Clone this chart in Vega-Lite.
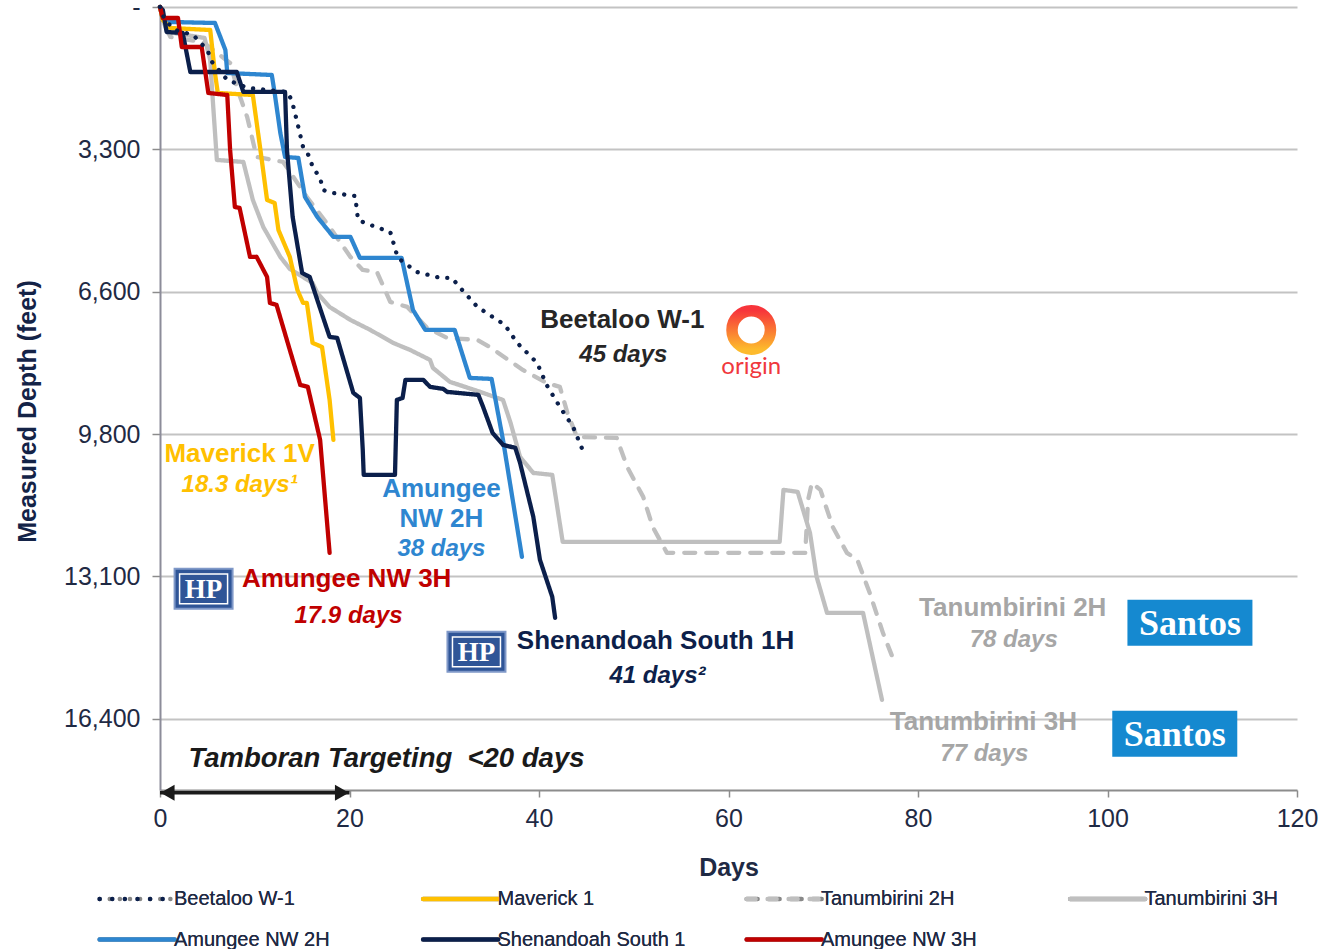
{
  "$schema": "https://vega.github.io/schema/vega-lite/v6.json",
  "width": 1137,
  "height": 783,
  "autosize": {"type": "none"},
  "padding": {"left": 160, "top": 7, "right": 22, "bottom": 159},
  "background": "white",
  "config": {
    "view": {"stroke": null},
    "font": "Liberation Sans",
    "axis": {"labelFont": "Liberation Sans", "titleFont": "Liberation Sans"}
  },
  "datasets": {
    "wells": [
      {"well": "Tanumbirini 3H", "day": 0, "depth": 0},
      {"well": "Tanumbirini 3H", "day": 0.3, "depth": 300},
      {"well": "Tanumbirini 3H", "day": 0.8, "depth": 576},
      {"well": "Tanumbirini 3H", "day": 4.7, "depth": 714},
      {"well": "Tanumbirini 3H", "day": 5.3, "depth": 1221},
      {"well": "Tanumbirini 3H", "day": 5.5, "depth": 1912},
      {"well": "Tanumbirini 3H", "day": 6.0, "depth": 3525},
      {"well": "Tanumbirini 3H", "day": 8.8, "depth": 3571},
      {"well": "Tanumbirini 3H", "day": 9.8, "depth": 4447},
      {"well": "Tanumbirini 3H", "day": 10.9, "depth": 5069},
      {"well": "Tanumbirini 3H", "day": 12.7, "depth": 5760},
      {"well": "Tanumbirini 3H", "day": 13.7, "depth": 6036},
      {"well": "Tanumbirini 3H", "day": 16.1, "depth": 6359},
      {"well": "Tanumbirini 3H", "day": 16.6, "depth": 6589},
      {"well": "Tanumbirini 3H", "day": 17.9, "depth": 6912},
      {"well": "Tanumbirini 3H", "day": 20.1, "depth": 7212},
      {"well": "Tanumbirini 3H", "day": 22.2, "depth": 7442},
      {"well": "Tanumbirini 3H", "day": 24.6, "depth": 7741},
      {"well": "Tanumbirini 3H", "day": 26.4, "depth": 7903},
      {"well": "Tanumbirini 3H", "day": 28.5, "depth": 8133},
      {"well": "Tanumbirini 3H", "day": 28.8, "depth": 8317},
      {"well": "Tanumbirini 3H", "day": 30.6, "depth": 8640},
      {"well": "Tanumbirini 3H", "day": 34.1, "depth": 8893},
      {"well": "Tanumbirini 3H", "day": 36.2, "depth": 9055},
      {"well": "Tanumbirini 3H", "day": 37.0, "depth": 9585},
      {"well": "Tanumbirini 3H", "day": 38.0, "depth": 10368},
      {"well": "Tanumbirini 3H", "day": 39.4, "depth": 10737},
      {"well": "Tanumbirini 3H", "day": 41.4, "depth": 10783},
      {"well": "Tanumbirini 3H", "day": 42.5, "depth": 12326},
      {"well": "Tanumbirini 3H", "day": 65.4, "depth": 12326},
      {"well": "Tanumbirini 3H", "day": 65.8, "depth": 11128},
      {"well": "Tanumbirini 3H", "day": 67.3, "depth": 11174},
      {"well": "Tanumbirini 3H", "day": 68.6, "depth": 12119},
      {"well": "Tanumbirini 3H", "day": 69.3, "depth": 13133},
      {"well": "Tanumbirini 3H", "day": 70.4, "depth": 13962},
      {"well": "Tanumbirini 3H", "day": 74.2, "depth": 13962},
      {"well": "Tanumbirini 3H", "day": 76.2, "depth": 15967},

      {"well": "Tanumbirini 2H", "day": 0, "depth": 0},
      {"well": "Tanumbirini 2H", "day": 0.5, "depth": 415},
      {"well": "Tanumbirini 2H", "day": 1.1, "depth": 691},
      {"well": "Tanumbirini 2H", "day": 4.5, "depth": 806},
      {"well": "Tanumbirini 2H", "day": 7.4, "depth": 1290},
      {"well": "Tanumbirini 2H", "day": 8.2, "depth": 1912},
      {"well": "Tanumbirini 2H", "day": 9.2, "depth": 2534},
      {"well": "Tanumbirini 2H", "day": 10.2, "depth": 3456},
      {"well": "Tanumbirini 2H", "day": 13.0, "depth": 3571},
      {"well": "Tanumbirini 2H", "day": 15.5, "depth": 4378},
      {"well": "Tanumbirini 2H", "day": 17.9, "depth": 5069},
      {"well": "Tanumbirini 2H", "day": 20.1, "depth": 5760},
      {"well": "Tanumbirini 2H", "day": 21.4, "depth": 6060},
      {"well": "Tanumbirini 2H", "day": 22.9, "depth": 6106},
      {"well": "Tanumbirini 2H", "day": 24.3, "depth": 6797},
      {"well": "Tanumbirini 2H", "day": 26.1, "depth": 6912},
      {"well": "Tanumbirini 2H", "day": 28.2, "depth": 7396},
      {"well": "Tanumbirini 2H", "day": 30.3, "depth": 7626},
      {"well": "Tanumbirini 2H", "day": 33.5, "depth": 7672},
      {"well": "Tanumbirini 2H", "day": 34.8, "depth": 7834},
      {"well": "Tanumbirini 2H", "day": 38.3, "depth": 8364},
      {"well": "Tanumbirini 2H", "day": 40.8, "depth": 8663},
      {"well": "Tanumbirini 2H", "day": 42.2, "depth": 8755},
      {"well": "Tanumbirini 2H", "day": 43.0, "depth": 9354},
      {"well": "Tanumbirini 2H", "day": 44.0, "depth": 9907},
      {"well": "Tanumbirini 2H", "day": 48.2, "depth": 9930},
      {"well": "Tanumbirini 2H", "day": 49.3, "depth": 10598},
      {"well": "Tanumbirini 2H", "day": 51.0, "depth": 11290},
      {"well": "Tanumbirini 2H", "day": 52.0, "depth": 11981},
      {"well": "Tanumbirini 2H", "day": 53.5, "depth": 12580},
      {"well": "Tanumbirini 2H", "day": 68.1, "depth": 12580},
      {"well": "Tanumbirini 2H", "day": 68.4, "depth": 11359},
      {"well": "Tanumbirini 2H", "day": 68.8, "depth": 10967},
      {"well": "Tanumbirini 2H", "day": 69.7, "depth": 11128},
      {"well": "Tanumbirini 2H", "day": 71.0, "depth": 11981},
      {"well": "Tanumbirini 2H", "day": 72.5, "depth": 12580},
      {"well": "Tanumbirini 2H", "day": 73.6, "depth": 12741},
      {"well": "Tanumbirini 2H", "day": 74.9, "depth": 13501},
      {"well": "Tanumbirini 2H", "day": 76.3, "depth": 14423},
      {"well": "Tanumbirini 2H", "day": 77.5, "depth": 15091},

      {"well": "Amungee NW 2H", "day": 0, "depth": 0},
      {"well": "Amungee NW 2H", "day": 0.3, "depth": 300},
      {"well": "Amungee NW 2H", "day": 1.3, "depth": 346},
      {"well": "Amungee NW 2H", "day": 5.8, "depth": 369},
      {"well": "Amungee NW 2H", "day": 6.9, "depth": 991},
      {"well": "Amungee NW 2H", "day": 7.1, "depth": 1521},
      {"well": "Amungee NW 2H", "day": 11.8, "depth": 1567},
      {"well": "Amungee NW 2H", "day": 12.1, "depth": 1981},
      {"well": "Amungee NW 2H", "day": 12.7, "depth": 2903},
      {"well": "Amungee NW 2H", "day": 13.2, "depth": 3456},
      {"well": "Amungee NW 2H", "day": 14.6, "depth": 3479},
      {"well": "Amungee NW 2H", "day": 15.3, "depth": 4378},
      {"well": "Amungee NW 2H", "day": 16.6, "depth": 4838},
      {"well": "Amungee NW 2H", "day": 18.3, "depth": 5299},
      {"well": "Amungee NW 2H", "day": 20.1, "depth": 5299},
      {"well": "Amungee NW 2H", "day": 21.1, "depth": 5783},
      {"well": "Amungee NW 2H", "day": 25.5, "depth": 5783},
      {"well": "Amungee NW 2H", "day": 26.7, "depth": 6981},
      {"well": "Amungee NW 2H", "day": 28.0, "depth": 7442},
      {"well": "Amungee NW 2H", "day": 31.1, "depth": 7442},
      {"well": "Amungee NW 2H", "day": 32.7, "depth": 8548},
      {"well": "Amungee NW 2H", "day": 35.0, "depth": 8571},
      {"well": "Amungee NW 2H", "day": 36.2, "depth": 9976},
      {"well": "Amungee NW 2H", "day": 38.2, "depth": 12672},

      {"well": "Maverick 1", "day": 0, "depth": 0},
      {"well": "Maverick 1", "day": 0.3, "depth": 300},
      {"well": "Maverick 1", "day": 1.1, "depth": 484},
      {"well": "Maverick 1", "day": 5.3, "depth": 530},
      {"well": "Maverick 1", "day": 5.8, "depth": 1521},
      {"well": "Maverick 1", "day": 6.1, "depth": 1981},
      {"well": "Maverick 1", "day": 9.8, "depth": 2028},
      {"well": "Maverick 1", "day": 10.6, "depth": 3295},
      {"well": "Maverick 1", "day": 11.3, "depth": 4447},
      {"well": "Maverick 1", "day": 12.1, "depth": 4516},
      {"well": "Maverick 1", "day": 12.5, "depth": 5138},
      {"well": "Maverick 1", "day": 13.7, "depth": 5760},
      {"well": "Maverick 1", "day": 14.5, "depth": 6520},
      {"well": "Maverick 1", "day": 15.1, "depth": 6820},
      {"well": "Maverick 1", "day": 15.5, "depth": 6820},
      {"well": "Maverick 1", "day": 16.1, "depth": 7741},
      {"well": "Maverick 1", "day": 17.1, "depth": 7834},
      {"well": "Maverick 1", "day": 17.9, "depth": 9055},
      {"well": "Maverick 1", "day": 18.3, "depth": 9976},

      {"well": "Shenandoah South 1", "day": 0, "depth": 0},
      {"well": "Shenandoah South 1", "day": 0.3, "depth": 69},
      {"well": "Shenandoah South 1", "day": 0.7, "depth": 576},
      {"well": "Shenandoah South 1", "day": 2.4, "depth": 599},
      {"well": "Shenandoah South 1", "day": 3.2, "depth": 1498},
      {"well": "Shenandoah South 1", "day": 8.1, "depth": 1498},
      {"well": "Shenandoah South 1", "day": 8.8, "depth": 1958},
      {"well": "Shenandoah South 1", "day": 13.2, "depth": 1958},
      {"well": "Shenandoah South 1", "day": 13.4, "depth": 3295},
      {"well": "Shenandoah South 1", "day": 14.0, "depth": 4838},
      {"well": "Shenandoah South 1", "day": 15.0, "depth": 6129},
      {"well": "Shenandoah South 1", "day": 15.8, "depth": 6221},
      {"well": "Shenandoah South 1", "day": 16.6, "depth": 6751},
      {"well": "Shenandoah South 1", "day": 17.9, "depth": 7603},
      {"well": "Shenandoah South 1", "day": 18.7, "depth": 7626},
      {"well": "Shenandoah South 1", "day": 20.4, "depth": 8893},
      {"well": "Shenandoah South 1", "day": 21.1, "depth": 9009},
      {"well": "Shenandoah South 1", "day": 21.4, "depth": 10207},
      {"well": "Shenandoah South 1", "day": 21.5, "depth": 10783},
      {"well": "Shenandoah South 1", "day": 24.8, "depth": 10783},
      {"well": "Shenandoah South 1", "day": 25.0, "depth": 9055},
      {"well": "Shenandoah South 1", "day": 25.6, "depth": 9009},
      {"well": "Shenandoah South 1", "day": 25.9, "depth": 8594},
      {"well": "Shenandoah South 1", "day": 27.8, "depth": 8594},
      {"well": "Shenandoah South 1", "day": 28.5, "depth": 8755},
      {"well": "Shenandoah South 1", "day": 29.9, "depth": 8801},
      {"well": "Shenandoah South 1", "day": 30.3, "depth": 8870},
      {"well": "Shenandoah South 1", "day": 33.6, "depth": 8939},
      {"well": "Shenandoah South 1", "day": 34.1, "depth": 9216},
      {"well": "Shenandoah South 1", "day": 35.1, "depth": 9815},
      {"well": "Shenandoah South 1", "day": 36.2, "depth": 10091},
      {"well": "Shenandoah South 1", "day": 37.5, "depth": 10161},
      {"well": "Shenandoah South 1", "day": 38.0, "depth": 10506},
      {"well": "Shenandoah South 1", "day": 39.4, "depth": 11750},
      {"well": "Shenandoah South 1", "day": 40.1, "depth": 12741},
      {"well": "Shenandoah South 1", "day": 41.4, "depth": 13594},
      {"well": "Shenandoah South 1", "day": 41.7, "depth": 14077},

      {"well": "Amungee NW 3H", "day": 0, "depth": 0},
      {"well": "Amungee NW 3H", "day": 0.2, "depth": 184},
      {"well": "Amungee NW 3H", "day": 0.3, "depth": 253},
      {"well": "Amungee NW 3H", "day": 1.9, "depth": 253},
      {"well": "Amungee NW 3H", "day": 2.3, "depth": 922},
      {"well": "Amungee NW 3H", "day": 4.4, "depth": 922},
      {"well": "Amungee NW 3H", "day": 5.1, "depth": 1981},
      {"well": "Amungee NW 3H", "day": 7.1, "depth": 2028},
      {"well": "Amungee NW 3H", "day": 7.4, "depth": 3295},
      {"well": "Amungee NW 3H", "day": 7.9, "depth": 4608},
      {"well": "Amungee NW 3H", "day": 8.4, "depth": 4631},
      {"well": "Amungee NW 3H", "day": 9.5, "depth": 5760},
      {"well": "Amungee NW 3H", "day": 10.2, "depth": 5760},
      {"well": "Amungee NW 3H", "day": 11.3, "depth": 6221},
      {"well": "Amungee NW 3H", "day": 11.6, "depth": 6820},
      {"well": "Amungee NW 3H", "day": 12.3, "depth": 6866},
      {"well": "Amungee NW 3H", "day": 13.7, "depth": 7903},
      {"well": "Amungee NW 3H", "day": 14.8, "depth": 8709},
      {"well": "Amungee NW 3H", "day": 15.6, "depth": 8755},
      {"well": "Amungee NW 3H", "day": 16.9, "depth": 9976},
      {"well": "Amungee NW 3H", "day": 17.9, "depth": 12580},

      {"well": "Beetaloo W-1", "day": 0, "depth": 0},
      {"well": "Beetaloo W-1", "day": 0.5, "depth": 300},
      {"well": "Beetaloo W-1", "day": 1.6, "depth": 530},
      {"well": "Beetaloo W-1", "day": 3.5, "depth": 645},
      {"well": "Beetaloo W-1", "day": 5.0, "depth": 991},
      {"well": "Beetaloo W-1", "day": 5.5, "depth": 1267},
      {"well": "Beetaloo W-1", "day": 7.1, "depth": 1682},
      {"well": "Beetaloo W-1", "day": 9.3, "depth": 1866},
      {"well": "Beetaloo W-1", "day": 13.4, "depth": 1958},
      {"well": "Beetaloo W-1", "day": 13.9, "depth": 2143},
      {"well": "Beetaloo W-1", "day": 14.5, "depth": 2673},
      {"well": "Beetaloo W-1", "day": 15.1, "depth": 3226},
      {"well": "Beetaloo W-1", "day": 15.8, "depth": 3456},
      {"well": "Beetaloo W-1", "day": 16.1, "depth": 3686},
      {"well": "Beetaloo W-1", "day": 16.9, "depth": 3940},
      {"well": "Beetaloo W-1", "day": 17.2, "depth": 4216},
      {"well": "Beetaloo W-1", "day": 18.2, "depth": 4285},
      {"well": "Beetaloo W-1", "day": 20.6, "depth": 4355},
      {"well": "Beetaloo W-1", "day": 20.9, "depth": 4908},
      {"well": "Beetaloo W-1", "day": 22.2, "depth": 5023},
      {"well": "Beetaloo W-1", "day": 24.3, "depth": 5184},
      {"well": "Beetaloo W-1", "day": 25.1, "depth": 5783},
      {"well": "Beetaloo W-1", "day": 27.1, "depth": 6106},
      {"well": "Beetaloo W-1", "day": 29.6, "depth": 6244},
      {"well": "Beetaloo W-1", "day": 30.8, "depth": 6244},
      {"well": "Beetaloo W-1", "day": 31.7, "depth": 6474},
      {"well": "Beetaloo W-1", "day": 33.5, "depth": 6912},
      {"well": "Beetaloo W-1", "day": 36.4, "depth": 7327},
      {"well": "Beetaloo W-1", "day": 37.7, "depth": 7741},
      {"well": "Beetaloo W-1", "day": 39.8, "depth": 8202},
      {"well": "Beetaloo W-1", "day": 40.8, "depth": 8709},
      {"well": "Beetaloo W-1", "day": 42.2, "depth": 9216},
      {"well": "Beetaloo W-1", "day": 43.6, "depth": 9677},
      {"well": "Beetaloo W-1", "day": 44.6, "depth": 10207}
    ],
    "names": [
      {"who": "beetaloo", "text": "Beetaloo W-1", "day": 48.8, "depth": 7212},
      {"who": "maverick", "text": "Maverick 1V", "day": 8.4, "depth": 10299},
      {"who": "amungee2", "text": "Amungee", "day": 29.7, "depth": 11105},
      {"who": "amungee2", "text": "NW 2H", "day": 29.7, "depth": 11796},
      {"who": "amungee3", "text": "Amungee NW 3H", "day": 19.7, "depth": 13179},
      {"who": "shenandoah", "text": "Shenandoah South 1H", "day": 52.3, "depth": 14607},
      {"who": "tanumbirini", "text": "Tanumbirini 2H", "day": 90.0, "depth": 13847},
      {"who": "tanumbirini", "text": "Tanumbirini 3H", "day": 86.9, "depth": 16474}
    ],
    "durations": [
      {"who": "beetaloo", "text": "45 days", "day": 48.9, "depth": 8018},
      {"who": "maverick", "text": "18.3 days¹", "day": 8.4, "depth": 11013},
      {"who": "amungee2", "text": "38 days", "day": 29.7, "depth": 12488},
      {"who": "amungee3", "text": "17.9 days", "day": 19.9, "depth": 14031},
      {"who": "shenandoah", "text": "41 days²", "day": 52.5, "depth": 15414},
      {"who": "tanumbirini", "text": "78 days", "day": 90.1, "depth": 14584},
      {"who": "tanumbirini", "text": "77 days", "day": 87.0, "depth": 17211}
    ],
    "target": [
      {"text": "Tamboran Targeting\u00a0 <20 days", "day": 23.9, "depth": 17326, "start": 0, "end": 20, "arrowDepth": 18109}
    ],
    "heads": [
      {"side": "left", "day": 0.8, "depth": 18109},
      {"side": "right", "day": 19.2, "depth": 18109}
    ],
    "hp": [
      {"day": 4.6, "depth": 13409},
      {"day": 33.4, "depth": 14861}
    ],
    "santos": [
      {"day": 108.7, "depth": 14193},
      {"day": 107.1, "depth": 16750}
    ],
    "origin": [
      {"day": 62.4, "depth": 7442, "textDepth": 8294, "text": "origin"}
    ]
  },
  "resolve": {"scale": {"color": "independent"}},
  "encoding": {
    "x": {
      "field": "day", "type": "quantitative",
      "scale": {"domain": [0, 120], "nice": false, "zero": false},
      "axis": {
        "title": "Days", "values": [0, 20, 40, 60, 80, 100, 120], "labelFlush": false,
        "grid": false, "domainColor": "#8C8C8C", "domainWidth": 2,
        "tickColor": "#8C8C8C", "tickWidth": 1.5, "tickSize": 7,
        "labelFontSize": 25, "labelColor": "#1F2A44", "labelPadding": 9,
        "titleFontSize": 25, "titleFontWeight": "bold", "titleColor": "#1F2A44",
        "titleY": 77, "titleBaseline": "middle"
      }
    },
    "y": {
      "field": "depth", "type": "quantitative",
      "scale": {"domain": [0, 18045], "reverse": true, "nice": false, "zero": false},
      "axis": {
        "title": "Measured Depth (feet)",
        "values": [0, 3280.84, 6561.68, 9842.52, 13123.36, 16404.2],
        "labelExpr": "datum.value == 0 ? '-' : format(round(datum.value / 100) * 100, ',')",
        "labelFlush": false,
        "grid": true, "gridColor": "#C3C3C3", "gridWidth": 1.8,
        "domainColor": "#8C8C99", "domainWidth": 2,
        "tickColor": "#8C8C8C", "tickWidth": 1.5, "tickSize": 8,
        "labelFontSize": 25, "labelColor": "#1F2A44", "labelPadding": 12,
        "titleFontSize": 25, "titleFontWeight": "bold", "titleColor": "#142347",
        "titleAngle": -90, "titleX": -133, "titleY": 404,
        "titleAlign": "center", "titleBaseline": "middle"
      }
    }
  },
  "layer": [
    {
      "data": {"name": "wells"},
      "mark": {"type": "line", "strokeWidth": 4.3, "strokeCap": "round", "strokeJoin": "round"},
      "encoding": {
        "order": {"value": null},
        "color": {
          "field": "well", "type": "nominal",
          "scale": {
            "domain": ["Beetaloo W-1", "Maverick 1", "Tanumbirini 2H", "Tanumbirini 3H", "Amungee NW 2H", "Shenandoah South 1", "Amungee NW 3H"],
            "range": ["#0B1F4B", "#FFC000", "#BFBFBF", "#BFBFBF", "#2E86D0", "#0B1F4B", "#C00000"]
          },
          "legend": {
            "title": null, "orient": "none", "legendX": -63, "legendY": 880,
            "direction": "horizontal",
            "columns": 4, "gridAlign": "all", "columnPadding": 51.5, "rowPadding": 18.5,
            "symbolType": "M-1,0H7", "symbolSize": 352, "symbolStrokeWidth": 4.5,
            "labelFontSize": 20, "labelColor": "#1F2A44", "labelFont": "Liberation Sans",
            "labelOffset": 53, "labelLimit": 400,
            "encode": {"symbols": {"update": {
              "strokeCap": {"value": "round"},
              "strokeDash": {"signal": "datum.value === 'Beetaloo W-1' ? [0.1, 12.5] : datum.value === 'Tanumbirini 2H' ? [9, 12] : [1, 0]"}
            }}}
          }
        },
        "strokeDash": {
          "field": "well", "type": "nominal",
          "scale": {
            "domain": ["Beetaloo W-1", "Maverick 1", "Tanumbirini 2H", "Tanumbirini 3H", "Amungee NW 2H", "Shenandoah South 1", "Amungee NW 3H"],
            "range": [[0.1, 10], [1, 0], [11, 11], [1, 0], [1, 0], [1, 0], [1, 0]]
          },
          "legend": {
            "title": null, "orient": "none", "legendX": -63, "legendY": 880,
            "direction": "horizontal",
            "columns": 4, "gridAlign": "all", "columnPadding": 51.5, "rowPadding": 18.5,
            "symbolType": "M-1,0H7", "symbolSize": 352, "symbolStrokeWidth": 4.5,
            "labelFontSize": 20, "labelColor": "#1F2A44", "labelFont": "Liberation Sans",
            "labelOffset": 53, "labelLimit": 400,
            "encode": {"symbols": {"update": {
              "strokeCap": {"value": "round"},
              "strokeDash": {"signal": "datum.value === 'Beetaloo W-1' ? [0.1, 12.5] : datum.value === 'Tanumbirini 2H' ? [9, 12] : [1, 0]"}
            }}}
          }
        }
      }
    },
    {
      "data": {"name": "names"},
      "mark": {"type": "text", "fontSize": 26, "fontWeight": "bold", "font": "Liberation Sans", "align": "center", "baseline": "middle"},
      "encoding": {
        "text": {"field": "text"},
        "color": {
          "field": "who", "type": "nominal", "legend": null,
          "scale": {
            "domain": ["beetaloo", "maverick", "amungee2", "amungee3", "shenandoah", "tanumbirini"],
            "range": ["#262626", "#FFC000", "#2E86D0", "#C00000", "#0D1F4A", "#A6A6A6"]
          }
        }
      }
    },
    {
      "data": {"name": "durations"},
      "mark": {"type": "text", "fontSize": 24, "fontWeight": "bold", "fontStyle": "italic", "font": "Liberation Sans", "align": "center", "baseline": "middle"},
      "encoding": {
        "text": {"field": "text"},
        "color": {
          "field": "who", "type": "nominal", "legend": null,
          "scale": {
            "domain": ["beetaloo", "maverick", "amungee2", "amungee3", "shenandoah", "tanumbirini"],
            "range": ["#262626", "#FFC000", "#2E86D0", "#C00000", "#0D1F4A", "#A6A6A6"]
          }
        }
      }
    },
    {
      "data": {"name": "target"},
      "mark": {"type": "text", "fontSize": 27.5, "fontWeight": "bold", "fontStyle": "italic", "font": "Liberation Sans", "align": "center", "baseline": "middle", "color": "#1A1A1A"},
      "encoding": {"text": {"field": "text"}}
    },
    {
      "data": {"name": "target"},
      "mark": {"type": "rule", "strokeWidth": 3.5, "color": "#1A1A1A"},
      "encoding": {
        "x": {"field": "start", "type": "quantitative"},
        "x2": {"field": "end"},
        "y": {"field": "arrowDepth", "type": "quantitative"}
      }
    },
    {
      "data": {"name": "heads"},
      "mark": {"type": "point", "filled": true, "opacity": 1, "color": "#1A1A1A", "size": 260},
      "encoding": {
        "shape": {"field": "side", "type": "nominal", "legend": null,
          "scale": {"domain": ["left", "right"], "range": ["triangle-left", "triangle-right"]}}
      }
    },
    {
      "data": {"name": "hp"},
      "mark": {"type": "point", "filled": true, "opacity": 1, "shape": "M-1,-0.69H1V0.69H-1Z", "size": 3364, "color": "#2F5597", "stroke": "#7F98C8", "strokeWidth": 2}
    },
    {
      "data": {"name": "hp"},
      "mark": {"type": "point", "filled": false, "opacity": 1, "shape": "M-1,-0.62H1V0.62H-1Z", "size": 2304, "stroke": "#FFFFFF", "strokeWidth": 1.5}
    },
    {
      "data": {"name": "hp"},
      "mark": {"type": "text", "text": "HP", "fontSize": 27, "fontWeight": "bold", "font": "Liberation Serif", "color": "#FFFFFF", "align": "center", "baseline": "middle", "dy": 1}
    },
    {
      "data": {"name": "santos"},
      "mark": {"type": "point", "filled": true, "opacity": 1, "shape": "M-1,-0.368H1V0.368H-1Z", "size": 15625, "color": "#1589D0", "strokeWidth": 0}
    },
    {
      "data": {"name": "santos"},
      "mark": {"type": "text", "text": "Santos", "fontSize": 36, "fontWeight": "bold", "font": "Liberation Serif", "color": "#FFFFFF", "align": "center", "baseline": "middle", "dy": 1}
    },
    {
      "data": {"name": "origin"},
      "mark": {
        "type": "point", "filled": false, "opacity": 1, "size": 1482, "strokeWidth": 11.5,
        "stroke": {"gradient": "linear", "x1": 0, "y1": 0, "x2": 0, "y2": 1,
          "stops": [{"offset": 0, "color": "#F7353B"}, {"offset": 1, "color": "#FDBA2C"}]}
      }
    },
    {
      "data": {"name": "origin"},
      "mark": {"type": "text", "fontSize": 24, "font": "Lato", "color": "#F0383D", "align": "center", "baseline": "middle"},
      "encoding": {
        "text": {"field": "text"},
        "y": {"field": "textDepth", "type": "quantitative"}
      }
    }
  ]
}
